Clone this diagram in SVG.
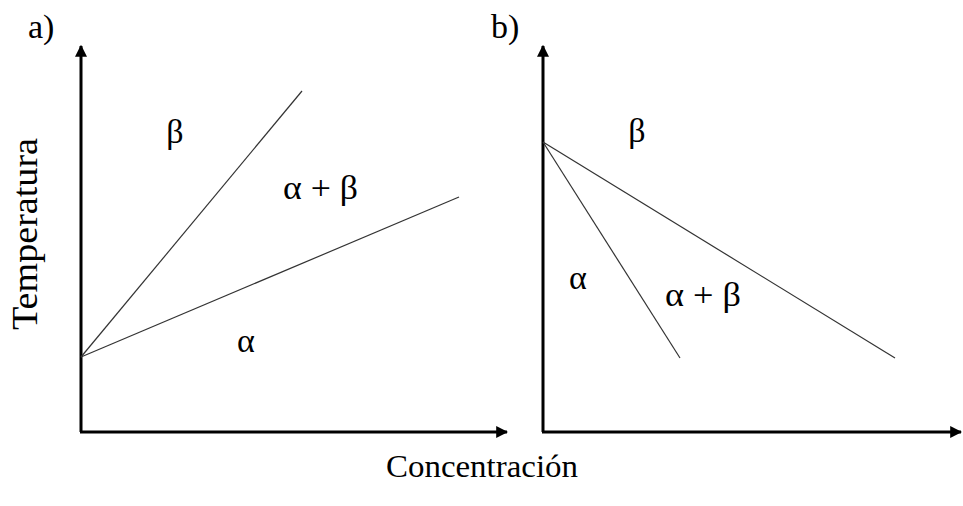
<svg xmlns="http://www.w3.org/2000/svg" width="963" height="506" viewBox="0 0 963 506">
<style>
.t{font-family:"Liberation Serif","Times New Roman",serif;fill:#000}
.g{font-family:"Liberation Serif","Times New Roman",serif;fill:#000;font-size:34px}
.ax{stroke:#000;stroke-width:3;fill:none}
.ln{stroke:#333;stroke-width:1.2;fill:none}
</style>
<defs>
<marker id="ah" viewBox="0 0 10 10" refX="9" refY="5" markerWidth="4" markerHeight="4" orient="auto" markerUnits="strokeWidth">
<path d="M0,0 L10,5 L0,10 z" fill="#000"/>
</marker>
</defs>
<rect width="963" height="506" fill="#fff"/>
<g id="panel-a">
<text class="t" x="28" y="38" font-size="34">a)</text>
<path class="ax" d="M81,432 L81,46" marker-end="url(#ah)"/>
<path class="ax" d="M80,432 L507,432" marker-end="url(#ah)"/>
<text class="g" x="175" y="143" text-anchor="middle">β</text>
<text class="g" x="283" y="199" textLength="75" lengthAdjust="spacingAndGlyphs">α + β</text>
<text class="g" x="246" y="352" text-anchor="middle">α</text>
</g>
<g id="panel-b">
<text class="t" x="491" y="38" font-size="34">b)</text>
<path class="ax" d="M543,432 L543,46" marker-end="url(#ah)"/>
<path class="ax" d="M542,432 L961,432" marker-end="url(#ah)"/>
<text class="g" x="637" y="142" text-anchor="middle">β</text>
<text class="g" x="578" y="289" text-anchor="middle">α</text>
<text class="g" x="665" y="306" textLength="76" lengthAdjust="spacingAndGlyphs">α + β</text>
</g>
<g id="connectors">
<line class="ln" x1="81" y1="357" x2="302" y2="91"/>
<line class="ln" x1="81" y1="357" x2="459" y2="197"/>
<line class="ln" x1="543" y1="142" x2="680" y2="358"/>
<line class="ln" x1="543" y1="142" x2="895" y2="358"/>
</g>
<g id="labels">
<text class="t" transform="translate(37,234) rotate(-90)" font-size="36" text-anchor="middle" textLength="192" lengthAdjust="spacingAndGlyphs">Temperatura</text>
<text class="t" x="482" y="477" font-size="32" text-anchor="middle" textLength="192" lengthAdjust="spacingAndGlyphs">Concentración</text>
</g>
</svg>
